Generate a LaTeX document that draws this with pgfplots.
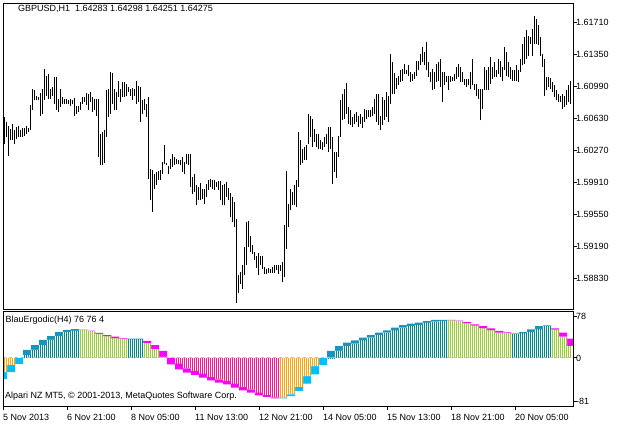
\documentclass[border=0pt]{standalone}
\usepackage{fontspec}
\setmainfont{Liberation Sans}
\usepackage{pgfplots}
\pgfplotsset{compat=1.18}
\definecolor{hteal}{RGB}{0,139,139}
\definecolor{hyg}{RGB}{154,205,50}
\definecolor{hpink}{RGB}{255,20,147}
\definecolor{horange}{RGB}{255,165,0}
\definecolor{bblue}{RGB}{0,191,255}
\definecolor{bsteel}{RGB}{20,150,190}
\definecolor{bmag}{RGB}{255,0,255}
\definecolor{lvl}{RGB}{192,192,192}
\begin{document}
\fontsize{9pt}{11pt}\selectfont
\begin{tikzpicture}[x=1pt,y=1pt]
\path[use as bounding box] (0,0) rectangle (621,-423);
\begin{axis}[
  at={(3pt,-3pt)}, anchor=north west, scale only axis,
  width=570pt, height=306pt,
  xmin=-0.5, xmax=284.5, ymin=1.58489, ymax=1.61932,
  axis line style={line width=1pt},
  xtick=\empty, scaled y ticks=false,
  ytick={1.58830,1.59190,1.59550,1.59910,1.60270,1.60630,1.60990,1.61350,1.61710},
  yticklabels={1.58830,1.59190,1.59550,1.59910,1.60270,1.60630,1.60990,1.61350,1.61710},
  ytick pos=upper, yticklabel pos=upper,
  tick align=outside, major tick length=4pt,
  tick style={black, line width=1pt},
  yticklabel style={anchor=west, inner sep=0pt, xshift=-1pt, font=\fontsize{9}{10}\selectfont},
  axis on top, unbounded coords=jump,
]
\addplot[black, line width=1pt] coordinates {
(0,1.6034)(0,1.60648)(0,nan)(1,1.60423)(1,1.60591)(1,nan)(2,1.60205)(2,1.60543)(2,nan)(3,1.60385)(3,1.60516)(3,nan)
(4,1.60393)(4,1.60565)(4,nan)(5,1.60348)(5,1.60505)(5,nan)(6,1.60404)(6,1.60535)(6,nan)(7,1.60423)(7,1.60543)(7,nan)
(8,1.60423)(8,1.60505)(8,nan)(9,1.60423)(9,1.60528)(9,nan)(10,1.60441)(10,1.60524)(10,nan)(11,1.6046)(11,1.60543)(11,nan)
(12,1.60479)(12,1.60524)(12,nan)(13,1.60498)(13,1.60779)(13,nan)(14,1.60723)(14,1.60966)(14,nan)(15,1.60835)(15,1.60948)(15,nan)
(16,1.60835)(16,1.60891)(16,nan)(17,1.60835)(17,1.60873)(17,nan)(18,1.60666)(18,1.60918)(18,nan)(19,1.60685)(19,1.60966)(19,nan)
(20,1.60835)(20,1.61184)(20,nan)(21,1.60891)(21,1.61116)(21,nan)(22,1.60854)(22,1.61128)(22,nan)(23,1.60854)(23,1.60966)(23,nan)
(24,1.60891)(24,1.60985)(24,nan)(25,1.60798)(25,1.61105)(25,nan)(26,1.60723)(26,1.61098)(26,nan)(27,1.60704)(27,1.60854)(27,nan)
(28,1.6076)(28,1.60966)(28,nan)(29,1.60798)(29,1.60873)(29,nan)(30,1.60798)(30,1.60854)(30,nan)(31,1.60798)(31,1.60854)(31,nan)
(32,1.6079)(32,1.60843)(32,nan)(33,1.60768)(33,1.60854)(33,nan)(34,1.6079)(34,1.60843)(34,nan)(35,1.60666)(35,1.60865)(35,nan)
(36,1.60685)(36,1.60768)(36,nan)(37,1.60704)(37,1.60768)(37,nan)(38,1.60723)(38,1.60816)(38,nan)(39,1.60798)(39,1.60873)(39,nan)
(40,1.60816)(40,1.60873)(40,nan)(41,1.60779)(41,1.60918)(41,nan)(42,1.60723)(42,1.6091)(42,nan)(43,1.60816)(43,1.60929)(43,nan)
(44,1.60704)(44,1.60873)(44,nan)(45,1.60723)(45,1.60854)(45,nan)(46,1.60666)(46,1.60854)(46,nan)(47,1.60198)(47,1.60854)(47,nan)
(48,1.60104)(48,1.6046)(48,nan)(49,1.60104)(49,1.60479)(49,nan)(50,1.6013)(50,1.60498)(50,nan)(51,1.60423)(51,1.60948)(51,nan)
(52,1.60648)(52,1.60966)(52,nan)(53,1.60685)(53,1.61154)(53,nan)(54,1.60798)(54,1.61143)(54,nan)(55,1.60723)(55,1.60966)(55,nan)
(56,1.60723)(56,1.60929)(56,nan)(57,1.60873)(57,1.6106)(57,nan)(58,1.60816)(58,1.60966)(58,nan)(59,1.60873)(59,1.61041)(59,nan)
(60,1.60873)(60,1.61041)(60,nan)(61,1.60891)(61,1.61023)(61,nan)(62,1.60929)(62,1.60985)(62,nan)(63,1.60891)(63,1.60966)(63,nan)
(64,1.60835)(64,1.60978)(64,nan)(65,1.60891)(65,1.60966)(65,nan)(66,1.60798)(66,1.6106)(66,nan)(67,1.60816)(67,1.60993)(67,nan)
(68,1.60591)(68,1.60985)(68,nan)(69,1.60685)(69,1.60835)(69,nan)(70,1.60723)(70,1.60854)(70,nan)(71,1.60648)(71,1.60798)(71,nan)
(72,1.59954)(72,1.60873)(72,nan)(73,1.5971)(73,1.60066)(73,nan)(74,1.59579)(74,1.60048)(74,nan)(75,1.59841)(75,1.6001)(75,nan)
(76,1.59879)(76,1.60029)(76,nan)(77,1.59935)(77,1.6004)(77,nan)(78,1.59942)(78,1.60048)(78,nan)(79,1.6001)(79,1.60141)(79,nan)
(80,1.60123)(80,1.60329)(80,nan)(81,1.60104)(81,1.6013)(81,nan)(82,1.6001)(82,1.60093)(82,nan)(83,1.60066)(83,1.60179)(83,nan)
(84,1.60085)(84,1.60228)(84,nan)(85,1.60104)(85,1.60198)(85,nan)(86,1.60123)(86,1.60179)(86,nan)(87,1.60123)(87,1.60168)(87,nan)
(88,1.60104)(88,1.60168)(88,nan)(89,1.60029)(89,1.60198)(89,nan)(90,1.6001)(90,1.60141)(90,nan)(91,1.60123)(91,1.60228)(91,nan)
(92,1.60104)(92,1.60228)(92,nan)(93,1.5986)(93,1.60235)(93,nan)(94,1.59785)(94,1.59973)(94,nan)(95,1.59804)(95,1.60003)(95,nan)
(96,1.59654)(96,1.59879)(96,nan)(97,1.5971)(97,1.59867)(97,nan)(98,1.5971)(98,1.59905)(98,nan)(99,1.59729)(99,1.59841)(99,nan)
(100,1.59673)(100,1.59841)(100,nan)(101,1.59748)(101,1.59898)(101,nan)(102,1.5983)(102,1.59935)(102,nan)(103,1.5986)(103,1.59954)(103,nan)
(104,1.59841)(104,1.59942)(104,nan)(105,1.59823)(105,1.59935)(105,nan)(106,1.5986)(106,1.59916)(106,nan)(107,1.59823)(107,1.59928)(107,nan)
(108,1.5971)(108,1.59928)(108,nan)(109,1.59654)(109,1.59879)(109,nan)(110,1.59654)(110,1.59898)(110,nan)(111,1.59748)(111,1.59916)(111,nan)
(112,1.5971)(112,1.59853)(112,nan)(113,1.59523)(113,1.59793)(113,nan)(114,1.59466)(114,1.59748)(114,nan)(115,1.5941)(115,1.59691)(115,nan)
(116,1.58555)(116,1.59504)(116,nan)(117,1.58668)(117,1.58866)(117,nan)(118,1.58773)(118,1.58904)(118,nan)(119,1.58716)(119,1.58979)(119,nan)
(120,1.58866)(120,1.59185)(120,nan)(121,1.58979)(121,1.59466)(121,nan)(122,1.59185)(122,1.59477)(122,nan)(123,1.59129)(123,1.59316)(123,nan)
(124,1.5911)(124,1.59204)(124,nan)(125,1.59035)(125,1.59129)(125,nan)(126,1.58953)(126,1.59091)(126,nan)(127,1.58866)(127,1.59118)(127,nan)
(128,1.58979)(128,1.59091)(128,nan)(129,1.58941)(129,1.59091)(129,nan)(130,1.58878)(130,1.5896)(130,nan)(131,1.58878)(131,1.58941)(131,nan)
(132,1.58893)(132,1.58953)(132,nan)(133,1.58893)(133,1.58941)(133,nan)(134,1.58893)(134,1.5896)(134,nan)(135,1.58893)(135,1.58979)(135,nan)
(136,1.58923)(136,1.58979)(136,nan)(137,1.58885)(137,1.58979)(137,nan)(138,1.58915)(138,1.58979)(138,nan)(139,1.58791)(139,1.59016)(139,nan)
(140,1.58848)(140,1.59429)(140,nan)(141,1.59166)(141,1.6004)(141,nan)(142,1.5941)(142,1.59673)(142,nan)(143,1.59598)(143,1.59841)(143,nan)
(144,1.59654)(144,1.59804)(144,nan)(145,1.59654)(145,1.59879)(145,nan)(146,1.59635)(146,1.59942)(146,nan)(147,1.5986)(147,1.60479)(147,nan)
(148,1.60104)(148,1.60385)(148,nan)(149,1.6013)(149,1.60291)(149,nan)(150,1.60168)(150,1.6031)(150,nan)(151,1.6016)(151,1.60329)(151,nan)
(152,1.60348)(152,1.60685)(152,nan)(153,1.60423)(153,1.60666)(153,nan)(154,1.6031)(154,1.60629)(154,nan)(155,1.60366)(155,1.60516)(155,nan)
(156,1.6031)(156,1.6046)(156,nan)(157,1.60291)(157,1.6046)(157,nan)(158,1.60291)(158,1.60385)(158,nan)(159,1.60273)(159,1.60366)(159,nan)
(160,1.6031)(160,1.60423)(160,nan)(161,1.60348)(161,1.6046)(161,nan)(162,1.60254)(162,1.60535)(162,nan)(163,1.60291)(163,1.60535)(163,nan)
(164,1.59898)(164,1.60423)(164,nan)(165,1.60029)(165,1.60254)(165,nan)(166,1.59965)(166,1.60254)(166,nan)(167,1.60198)(167,1.60441)(167,nan)
(168,1.60423)(168,1.60835)(168,nan)(169,1.6061)(169,1.6091)(169,nan)(170,1.60629)(170,1.60966)(170,nan)(171,1.60685)(171,1.6103)(171,nan)
(172,1.60573)(172,1.6076)(172,nan)(173,1.60554)(173,1.60723)(173,nan)(174,1.60535)(174,1.60648)(174,nan)(175,1.60573)(175,1.60685)(175,nan)
(176,1.60591)(176,1.60704)(176,nan)(177,1.60535)(177,1.60666)(177,nan)(178,1.60573)(178,1.60685)(178,nan)(179,1.60528)(179,1.60648)(179,nan)
(180,1.60591)(180,1.60741)(180,nan)(181,1.60629)(181,1.60723)(181,nan)(182,1.60648)(182,1.60723)(182,nan)(183,1.60648)(183,1.60723)(183,nan)
(184,1.60666)(184,1.6076)(184,nan)(185,1.60685)(185,1.60854)(185,nan)(186,1.60591)(186,1.6091)(186,nan)(187,1.60554)(187,1.6091)(187,nan)
(188,1.60498)(188,1.60666)(188,nan)(189,1.60554)(189,1.60873)(189,nan)(190,1.6061)(190,1.60835)(190,nan)(191,1.60648)(191,1.60929)(191,nan)
(192,1.60591)(192,1.6088)(192,nan)(193,1.60798)(193,1.61353)(193,nan)(194,1.6091)(194,1.61266)(194,nan)(195,1.6091)(195,1.61143)(195,nan)
(196,1.60966)(196,1.6109)(196,nan)(197,1.61004)(197,1.61116)(197,nan)(198,1.61041)(198,1.61173)(198,nan)(199,1.6106)(199,1.61191)(199,nan)
(200,1.61128)(200,1.61248)(200,nan)(201,1.61128)(201,1.61173)(201,nan)(202,1.61116)(202,1.61229)(202,nan)(203,1.61041)(203,1.61154)(203,nan)
(204,1.6106)(204,1.61135)(204,nan)(205,1.61079)(205,1.61154)(205,nan)(206,1.61116)(206,1.61285)(206,nan)(207,1.61173)(207,1.61285)(207,nan)
(208,1.61229)(208,1.6136)(208,nan)(209,1.61266)(209,1.61435)(209,nan)(210,1.61229)(210,1.61379)(210,nan)(211,1.61173)(211,1.61491)(211,nan)
(212,1.61098)(212,1.61266)(212,nan)(213,1.61041)(213,1.61154)(213,nan)(214,1.60948)(214,1.61191)(214,nan)(215,1.60966)(215,1.61154)(215,nan)
(216,1.61041)(216,1.61248)(216,nan)(217,1.6106)(217,1.61266)(217,nan)(218,1.60985)(218,1.61304)(218,nan)(219,1.60816)(219,1.61154)(219,nan)
(220,1.61004)(220,1.61154)(220,nan)(221,1.61041)(221,1.61116)(221,nan)(222,1.60948)(222,1.61116)(222,nan)(223,1.61041)(223,1.61116)(223,nan)
(224,1.6106)(224,1.61105)(224,nan)(225,1.6106)(225,1.61135)(225,nan)(226,1.61079)(226,1.6121)(226,nan)(227,1.61098)(227,1.61248)(227,nan)
(228,1.61041)(228,1.6121)(228,nan)(229,1.61041)(229,1.61154)(229,nan)(230,1.61004)(230,1.61079)(230,nan)(231,1.60985)(231,1.61079)(231,nan)
(232,1.61004)(232,1.61079)(232,nan)(233,1.60966)(233,1.61154)(233,nan)(234,1.61004)(234,1.61304)(234,nan)(235,1.60948)(235,1.61023)(235,nan)
(236,1.60891)(236,1.61023)(236,nan)(237,1.60854)(237,1.60966)(237,nan)(238,1.6061)(238,1.60966)(238,nan)(239,1.60741)(239,1.60966)(239,nan)
(240,1.60948)(240,1.6121)(240,nan)(241,1.60948)(241,1.61173)(241,nan)(242,1.60948)(242,1.6121)(242,nan)(243,1.61023)(243,1.61323)(243,nan)
(244,1.61079)(244,1.6121)(244,nan)(245,1.61098)(245,1.61266)(245,nan)(246,1.61098)(246,1.61173)(246,nan)(247,1.61135)(247,1.61304)(247,nan)
(248,1.61098)(248,1.61285)(248,nan)(249,1.6106)(249,1.6121)(249,nan)(250,1.61173)(250,1.61435)(250,nan)(251,1.61116)(251,1.61379)(251,nan)
(252,1.61098)(252,1.61266)(252,nan)(253,1.61079)(253,1.6121)(253,nan)(254,1.6106)(254,1.61173)(254,nan)(255,1.6106)(255,1.61173)(255,nan)
(256,1.6106)(256,1.61229)(256,nan)(257,1.61041)(257,1.61173)(257,nan)(258,1.61154)(258,1.61304)(258,nan)(259,1.61229)(259,1.61473)(259,nan)
(260,1.61248)(260,1.61548)(260,nan)(261,1.61304)(261,1.61623)(261,nan)(262,1.61341)(262,1.61566)(262,nan)(263,1.61473)(263,1.61548)(263,nan)
(264,1.61341)(264,1.61641)(264,nan)(265,1.61473)(265,1.61791)(265,nan)(266,1.61473)(266,1.61754)(266,nan)(267,1.61454)(267,1.61679)(267,nan)
(268,1.61341)(268,1.61548)(268,nan)(269,1.6121)(269,1.6136)(269,nan)(270,1.60891)(270,1.61304)(270,nan)(271,1.60948)(271,1.61098)(271,nan)
(272,1.60985)(272,1.61098)(272,nan)(273,1.60966)(273,1.6109)(273,nan)(274,1.60929)(274,1.61041)(274,nan)(275,1.60873)(275,1.61004)(275,nan)
(276,1.60835)(276,1.60948)(276,nan)(277,1.60816)(277,1.6091)(277,nan)(278,1.60816)(278,1.60891)(278,nan)(279,1.60741)(279,1.6091)(279,nan)
(280,1.6076)(280,1.60891)(280,nan)(281,1.60779)(281,1.60948)(281,nan)(282,1.60816)(282,1.61004)(282,nan)(283,1.60798)(283,1.6106)(283,nan)
};
\end{axis}
\begin{axis}[
  at={(3pt,-311pt)}, anchor=north west, scale only axis,
  width=570pt, height=95pt,
  xmin=-0.5, xmax=284.5, ymin=-89.8, ymax=87.9,
  axis line style={line width=1pt},
  xtick={-0.5,31.5,63.5,95.5,127.5,159.5,191.5,223.5,255.5},
  xticklabels={5 Nov 2013,6 Nov 21:00,8 Nov 05:00,11 Nov 13:00,12 Nov 21:00,14 Nov 05:00,15 Nov 13:00,18 Nov 21:00,20 Nov 05:00},
  xtick pos=lower, xticklabel pos=lower,
  ytick={-81,0,78}, yticklabels={-81,0,78},
  ytick pos=upper, yticklabel pos=upper,
  tick align=outside, major tick length=4pt,
  tick style={black, line width=1pt},
  yticklabel style={anchor=west, inner sep=0pt, xshift=-1pt, font=\fontsize{9}{10}\selectfont},
  xticklabel style={anchor=base west, inner sep=0pt, yshift=-10pt, font=\fontsize{9}{10}\selectfont},
  axis on top,
]
% signal-change bands
\addplot[ybar, bar width=4, bar shift=0pt, fill=bblue, draw=none] coordinates {
(-0.5,-39.3)(3.5,-26.2)(7.5,-11.2)
(139.5,-75.4)(143.5,-71.1)(147.5,-61.7)(151.5,-48.1)(155.5,-30.5)(159.5,-13.1)};
\addplot[ybar, bar width=4, bar shift=0pt, fill=bsteel, draw=none] coordinates {
(11.5,15.0)(15.5,24.3)(19.5,33.7)(23.5,41.1)(27.5,48.6)(31.5,52.4)(35.5,54.2)
(63.5,36.1)(67.5,36.1)
(163.5,13.1)(167.5,22.4)(171.5,28.6)(175.5,33.1)(179.5,38.0)(183.5,43.0)(187.5,47.3)(191.5,51.8)(195.5,56.7)(199.5,61.7)(203.5,64.1)(207.5,66.0)(211.5,69.2)(215.5,71.1)(219.5,71.1)
(255.5,46.2)(259.5,48.6)(263.5,53.7)(267.5,59.8)(271.5,61.1)};
\addplot[ybar, bar width=4, bar shift=0pt, fill=bmag, draw=none] coordinates {
(39.5,53.3)(43.5,51.4)(47.5,47.1)(51.5,43.0)(55.5,39.8)(59.5,37.4)
(71.5,31.8)(75.5,24.3)(79.5,13.1)(83.5,-11.8)(87.5,-21.1)(91.5,-27.5)(95.5,-31.8)(99.5,-36.8)(103.5,-41.7)(107.5,-46.2)(111.5,-49.2)(115.5,-55.5)(119.5,-60.4)(123.5,-64.9)(127.5,-69.8)(131.5,-72.9)(135.5,-75.7)
(223.5,71.1)(227.5,70.1)(231.5,67.3)(235.5,63.0)(239.5,59.8)(243.5,55.5)(247.5,50.5)(251.5,48.6)
(275.5,55.5)(279.5,47.3)(283.5,36.1)};
\addplot[ybar, bar width=4, bar shift=0pt, fill=white, draw=none] coordinates {
(-0.5,-26.2)(3.5,-13.1)(11.5,5.6)(15.5,15.0)(19.5,24.3)(23.5,33.7)(27.5,41.1)(31.5,48.6)(35.5,50.5)(39.5,52.4)(43.5,50.5)(47.5,44.9)(51.5,40.6)(55.5,36.8)(59.5,36.1)(63.5,35.0)(67.5,35.0)(71.5,28.0)(75.5,16.8)(79.5,1.9)
(87.5,-10.7)(91.5,-19.3)(95.5,-24.3)(99.5,-29.4)(103.5,-35.5)(107.5,-39.8)(111.5,-43.0)(115.5,-48.1)(119.5,-54.2)(123.5,-58.5)(127.5,-64.9)(131.5,-69.2)(135.5,-73.5)(139.5,-74.2)(143.5,-67.9)(147.5,-54.2)(151.5,-33.7)(155.5,-15.0)
(163.5,0.6)(167.5,13.1)(171.5,22.4)(175.5,26.7)(179.5,33.1)(183.5,38.0)(187.5,43.0)(191.5,47.3)(195.5,51.8)(199.5,56.7)(203.5,59.8)(207.5,61.7)(211.5,65.5)(215.5,67.9)(219.5,69.2)(223.5,70.5)(227.5,69.2)(231.5,64.9)(235.5,60.4)(239.5,55.5)(243.5,51.8)(247.5,47.3)(251.5,47.3)(255.5,44.9)(259.5,46.2)(263.5,48.6)(267.5,53.7)(271.5,59.8)(275.5,52.9)(279.5,39.8)(283.5,22.4)};
% histogram stripes
\addplot[ycomb, no markers, line width=1pt, draw=hteal] coordinates {
(10,5.6)(11,5.6)(12,5.6)(13,5.6)(14,15)(15,15)(16,15)(17,15)(18,24.3)(19,24.3)(20,24.3)(21,24.3)
(22,33.7)(23,33.7)(24,33.7)(25,33.7)(26,41.1)(27,41.1)(28,41.1)(29,41.1)(30,48.6)(31,48.6)(32,48.6)(33,48.6)
(34,50.5)(35,50.5)(36,50.5)(37,50.5)
(62,35)(63,35)(64,35)(65,35)(66,35)(67,35)(68,35)(69,35)
(162,0.6)(163,0.6)(164,0.6)(165,0.6)(166,13.1)(167,13.1)(168,13.1)(169,13.1)(170,22.4)(171,22.4)(172,22.4)(173,22.4)
(174,26.7)(175,26.7)(176,26.7)(177,26.7)(178,33.1)(179,33.1)(180,33.1)(181,33.1)(182,38)(183,38)(184,38)(185,38)
(186,43)(187,43)(188,43)(189,43)(190,47.3)(191,47.3)(192,47.3)(193,47.3)(194,51.8)(195,51.8)(196,51.8)(197,51.8)
(198,56.7)(199,56.7)(200,56.7)(201,56.7)(202,59.8)(203,59.8)(204,59.8)(205,59.8)(206,61.7)(207,61.7)(208,61.7)(209,61.7)
(210,65.5)(211,65.5)(212,65.5)(213,65.5)(214,67.9)(215,67.9)(216,67.9)(217,67.9)(218,69.2)(219,69.2)(220,69.2)(221,69.2)
(254,44.9)(255,44.9)(256,44.9)(257,44.9)(258,46.2)(259,46.2)(260,46.2)(261,46.2)(262,48.6)(263,48.6)(264,48.6)(265,48.6)
(266,53.7)(267,53.7)(268,53.7)(269,53.7)(270,59.8)(271,59.8)(272,59.8)(273,59.8)};
\addplot[ycomb, no markers, line width=1pt, draw=hyg] coordinates {
(38,52.4)(39,52.4)(40,52.4)(41,52.4)(42,50.5)(43,50.5)(44,50.5)(45,50.5)(46,44.9)(47,44.9)(48,44.9)(49,44.9)
(50,40.6)(51,40.6)(52,40.6)(53,40.6)(54,36.8)(55,36.8)(56,36.8)(57,36.8)(58,36.1)(59,36.1)(60,36.1)(61,36.1)
(70,28)(71,28)(72,28)(73,28)(74,16.8)(75,16.8)(76,16.8)(77,16.8)(78,1.9)(79,1.9)(80,1.9)(81,1.9)
(222,70.5)(223,70.5)(224,70.5)(225,70.5)(226,69.2)(227,69.2)(228,69.2)(229,69.2)(230,64.9)(231,64.9)(232,64.9)(233,64.9)
(234,60.4)(235,60.4)(236,60.4)(237,60.4)(238,55.5)(239,55.5)(240,55.5)(241,55.5)(242,51.8)(243,51.8)(244,51.8)(245,51.8)
(246,47.3)(247,47.3)(248,47.3)(249,47.3)(250,47.3)(251,47.3)(252,47.3)(253,47.3)
(274,52.9)(275,52.9)(276,52.9)(277,52.9)(278,39.8)(279,39.8)(280,39.8)(281,39.8)(282,22.4)(283,22.4)};
\addplot[ycomb, no markers, line width=1pt, draw=hpink] coordinates {
(86,-10.7)(87,-10.7)(88,-10.7)(89,-10.7)(90,-19.3)(91,-19.3)(92,-19.3)(93,-19.3)(94,-24.3)(95,-24.3)(96,-24.3)(97,-24.3)
(98,-29.4)(99,-29.4)(100,-29.4)(101,-29.4)(102,-35.5)(103,-35.5)(104,-35.5)(105,-35.5)(106,-39.8)(107,-39.8)(108,-39.8)(109,-39.8)
(110,-43)(111,-43)(112,-43)(113,-43)(114,-48.1)(115,-48.1)(116,-48.1)(117,-48.1)(118,-54.2)(119,-54.2)(120,-54.2)(121,-54.2)
(122,-58.5)(123,-58.5)(124,-58.5)(125,-58.5)(126,-64.9)(127,-64.9)(128,-64.9)(129,-64.9)(130,-69.2)(131,-69.2)(132,-69.2)(133,-69.2)
(134,-73.5)(135,-73.5)(136,-73.5)(137,-73.5)};
\addplot[ycomb, no markers, line width=1pt, draw=horange] coordinates {
(0,-26.2)(1,-26.2)(2,-13.1)(3,-13.1)(4,-13.1)(5,-13.1)
(138,-74.2)(139,-74.2)(140,-74.2)(141,-74.2)(142,-67.9)(143,-67.9)(144,-67.9)(145,-67.9)
(146,-54.2)(147,-54.2)(148,-54.2)(149,-54.2)(150,-33.7)(151,-33.7)(152,-33.7)(153,-33.7)
(154,-15)(155,-15)(156,-15)(157,-15)};
\addplot[lvl, line width=1pt, dash pattern=on 3pt off 3pt] coordinates {(-0.5,0)(284.5,0)};
\end{axis}
\node[anchor=base west, inner sep=0pt] at (18,-12) {GBPUSD,H1\ \ 1.64283 1.64298 1.64251 1.64275};
\node[anchor=base west, inner sep=0pt] at (5.5,-322.5) {BlauErgodic(H4) 76 76 4};
\node[anchor=base west, inner sep=0pt] at (5,-398) {Alpari NZ MT5, © 2001-2013, MetaQuotes Software Corp.};
\end{tikzpicture}
\end{document}
